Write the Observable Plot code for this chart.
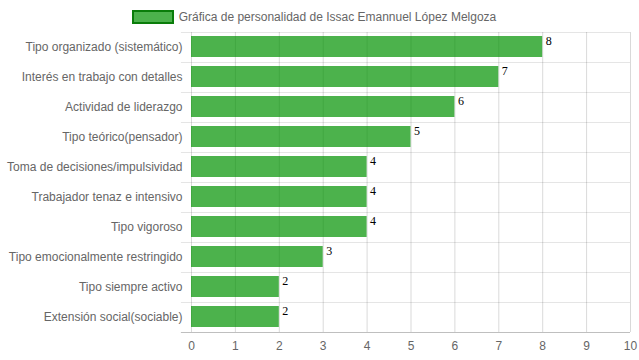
<!DOCTYPE html>
<html>
<head>
<meta charset="utf-8">
<script src="https://cdn.jsdelivr.net/npm/d3@7"></script>
<script src="https://cdn.jsdelivr.net/npm/@observablehq/plot@0.6"></script>
<style>
  body { margin: 0; background: #fff; font-family: "Liberation Sans", Arial, sans-serif; }
  #legend { height: 30px; display: flex; align-items: center; justify-content: center; font-size: 12px; color: #666; padding-top: 3px; padding-right: 11px; box-sizing: border-box; }
  #legend .box { width: 38px; height: 10px; background: rgba(0,146,0,0.7); border: 2px solid #0a7d0a; margin-right: 5px; }
  svg { display: block; }
</style>
</head>
<body>
<div id="legend"><span class="box"></span><span id="legend-label"></span></div>
<div id="chart"></div>
<script>
const seriesName = "Gráfica de personalidad de Issac Emannuel López Melgoza";
const categories = [
  "Tipo organizado (sistemático)",
  "Interés en trabajo con detalles",
  "Actividad de liderazgo",
  "Tipo teórico(pensador)",
  "Toma de decisiones/impulsividad",
  "Trabajador tenaz e intensivo",
  "Tipo vigoroso",
  "Tipo emocionalmente restringido",
  "Tipo siempre activo",
  "Extensión social(sociable)"
];
const values = [8, 7, 6, 5, 4, 4, 4, 3, 2, 2];
const xTicks = [0, 1, 2, 3, 4, 5, 6, 7, 8, 9, 10];

document.getElementById("legend-label").textContent = seriesName;

const data = categories.map((c, i) => ({category: c, value: values[i]}));

const chart = Plot.plot({
  width: 639,
  height: 330,
  marginTop: 2,
  marginBottom: 28,
  marginLeft: 191,
  marginRight: 9,
  style: {fontFamily: "'Liberation Sans', Arial, sans-serif", fontSize: "12px", color: "#666", background: "#fff"},
  x: {domain: [0, 10], ticks: xTicks, label: null},
  y: {domain: categories, padding: 0, label: null},
  marks: [
    Plot.ruleX(xTicks, {x: d => d, stroke: "#000", strokeOpacity: 0.15}),
    Plot.ruleY(categories, {y: d => d, dy: -15, x1: -0.23, x2: 10, stroke: "#000", strokeOpacity: 0.1}),
    Plot.barX(data, {y: "category", x: "value", fill: "rgb(0,146,0)", fillOpacity: 0.7, insetTop: 4, insetBottom: 5}),
    Plot.text(data, {y: "category", x: "value", text: d => String(d.value), textAnchor: "start", lineAnchor: "top", dx: 3, dy: -11, fontFamily: "'Liberation Serif', serif", fontSize: 12, fill: "#000"}),
    Plot.axisY({tickSize: 0, tickPadding: 9, fontSize: 12, fill: "#666"}),
    Plot.axisX({ticks: xTicks, tickSize: 0, tickPadding: 9, fontSize: 12, fill: "#666", tickFormat: d => String(d)}),
    Plot.ruleY([0], {y: () => categories[categories.length - 1], dy: 15, x1: -0.23, x2: 10, stroke: "#000", strokeOpacity: 0.25})
  ]
});
document.getElementById("chart").appendChild(chart);
</script>
</body>
</html>
